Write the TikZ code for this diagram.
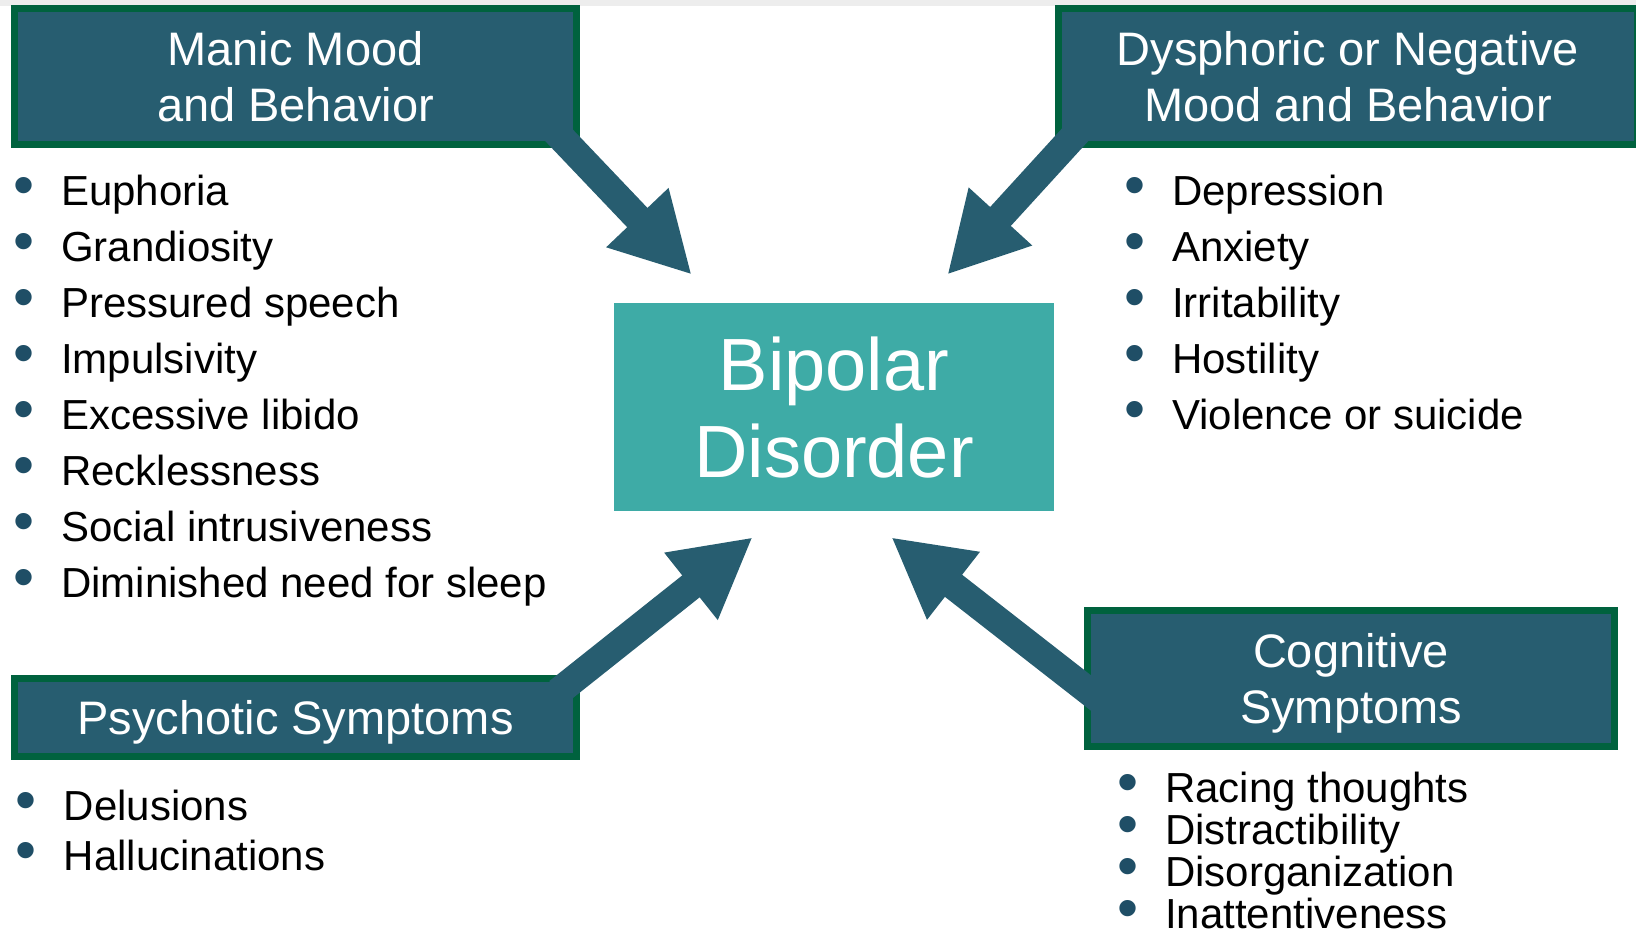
\documentclass[tikz,border=0pt]{standalone}
\usepackage{fontspec}
\setmainfont{Liberation Sans}
\usetikzlibrary{arrows.meta}
\definecolor{boxblue}{RGB}{39,93,112}
\definecolor{boxgreen}{RGB}{0,98,62}
\definecolor{centreteal}{RGB}{62,171,166}
\definecolor{dotblue}{RGB}{31,78,102}
\newcommand{\itm}[1]{\rule{0pt}{32pt}\makebox[48pt][l]{\fontsize{60}{60}\selectfont\textcolor{dotblue}{•}}#1}
\tikzstyle{heading}=[rectangle,draw=boxgreen,line width=7pt,fill=boxblue,
text=white,align=center,text depth=0pt,font=\fontsize{47}{56}\selectfont]
\tikzstyle{centre}=[rectangle,fill=centreteal,text=white,align=center,text depth=0pt,
minimum width=440pt,minimum height=208pt,font=\fontsize{74}{87}\selectfont]
\tikzstyle{items}=[anchor=north west,inner sep=0pt,align=left]
\tikzstyle{bigarrow}=[line width=28pt,draw=boxblue,-{Triangle[width=80pt,length=79pt]}]
\begin{document}
\begin{tikzpicture}[x=1pt,y=-1pt]
    \useasboundingbox (0,0) rectangle (1636,932);
    \fill[black!7] (0,0) rectangle (1636,6);

        \node (manic) [heading,minimum width=562pt,minimum height=136pt] at (295.5,76.5) {Manic Mood\\and Behavior};
        \node (dysphoric) [heading,minimum width=579pt,minimum height=136pt] at (1348,76.5) {Dysphoric or Negative\\Mood and Behavior};
        \node (psychotic) [heading,minimum width=562pt,minimum height=78pt] at (295.5,717.5) {Psychotic Symptoms};
        \node (cognitive) [heading,minimum width=527pt,minimum height=136pt] at (1351,678.5) {Cognitive\\Symptoms};
        \node (bipolar) [centre] at (834,407) {Bipolar\\Disorder};

        \node (maniclist) [items,font=\fontsize{42}{56}\selectfont] at (13,173) {\itm{Euphoria}\\\itm{Grandiosity}\\\itm{Pressured speech}\\\itm{Impulsivity}\\\itm{Excessive libido}\\\itm{Recklessness}\\\itm{Social intrusiveness}\\\itm{Diminished need for sleep}};
        \node (dysphoriclist) [items,font=\fontsize{42}{56}\selectfont] at (1124,173) {\itm{Depression}\\\itm{Anxiety}\\\itm{Irritability}\\\itm{Hostility}\\\itm{Violence or suicide}};
        \node (psychoticlist) [items,font=\fontsize{42}{49.3}\selectfont] at (15.5,788.7) {\itm{Delusions}\\\itm{Hallucinations}};
        \node (cognitivelist) [items,font=\fontsize{42}{42}\selectfont] at (1117,770.7) {\itm{Racing thoughts}\\\itm{Distractibility}\\\itm{Disorganization}\\\itm{Inattentiveness}};

        \draw [bigarrow] ([shift={(-46,-39)}]manic.south east) -- ([shift={(78,-28)}]bipolar.north west);
        \draw [bigarrow] ([shift={(40,-35)}]dysphoric.south west) -- ([shift={(-107,-28)}]bipolar.north east);
        \draw [bigarrow] ([shift={(-22,17)}]psychotic.north east) -- ([shift={(139,26)}]bipolar.south west);
        \draw [bigarrow] ([shift={(16,93)}]cognitive.north west) -- ([shift={(-163,26)}]bipolar.south east);

    \end{tikzpicture}
\end{document}
